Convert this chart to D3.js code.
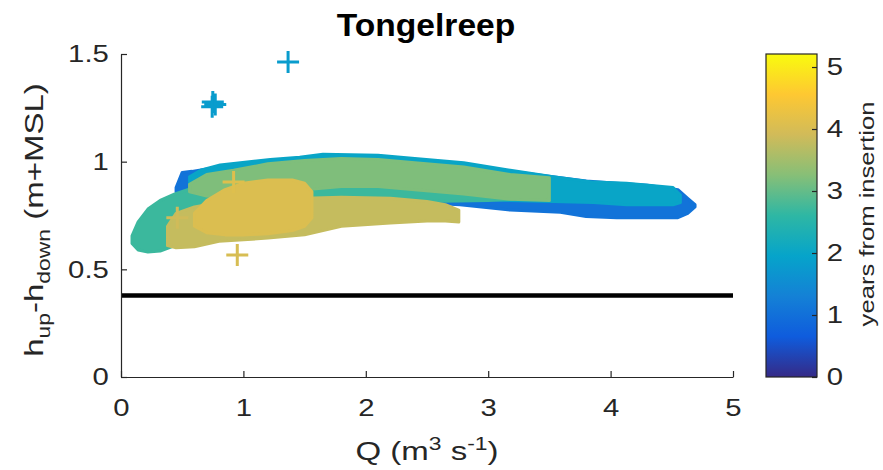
<!DOCTYPE html>
<html lang="en">
<head>
<meta charset="UTF-8">
<title>Tongelreep</title>
<script src="https://d3js.org/d3.v7.min.js"></script>
<style>
    body {
        margin: 0;
        background: #fff;
        font-family: "Liberation Sans", Arial, sans-serif;
    }
    .axis path, .axis line { stroke: #262626; stroke-width: 1.2px; }
    .axis text { font-size: 24px; fill: #262626; font-family: "Liberation Sans", Arial, sans-serif; }
    .label { font-size: 26px; fill: #262626; }
    .title { font-size: 32px; font-weight: bold; fill: #000; }
</style>
</head>
<body>
<script>
    // colour value (years from insertion) of each cloud of points, drawn in this order
    var bandYears = [1.05, 2.0, 2.7, 3.2, 3.8, 4.05];

    // envelopes of the dense point clouds: [Q, lower h, upper h]
    var bandBlue = [[0.45, 0.86, 0.88], [0.5, 0.85, 0.95], [0.58, 0.84, 0.955], [0.8, 0.83, 0.975],
        [1.2, 0.83, 1.0], [1.8, 0.83, 1.02], [2.4, 0.81, 1.01], [2.77, 0.80, 0.99], [3.18, 0.775, 0.955],
        [3.59, 0.765, 0.925], [3.8, 0.745, 0.91], [4.05, 0.74, 0.9], [4.3, 0.74, 0.89],
        [4.55, 0.74, 0.87], [4.63, 0.76, 0.83], [4.69, 0.79, 0.80]];
    var bandCyan = [[0.56, 0.86, 0.93], [0.65, 0.84, 0.96], [0.81, 0.84, 0.985], [1.22, 0.85, 1.01],
        [1.46, 0.85, 1.02], [1.65, 0.85, 1.035], [2.1, 0.85, 1.03], [2.4, 0.84, 1.015], [2.8, 0.83, 0.995],
        [3.18, 0.82, 0.96], [3.53, 0.815, 0.93], [3.86, 0.81, 0.905], [4.13, 0.80, 0.90],
        [4.51, 0.80, 0.88], [4.57, 0.81, 0.845]];
    var bandTeal = [[0.09, 0.62, 0.655], [0.14, 0.59, 0.72], [0.22, 0.58, 0.78], [0.32, 0.585, 0.82],
        [0.44, 0.61, 0.85], [0.6, 0.64, 0.88], [1.0, 0.70, 0.93], [1.5, 0.78, 0.95], [2.0, 0.82, 0.96],
        [2.5, 0.815, 0.95], [3.0, 0.82, 0.93], [3.2, 0.825, 0.90]];
    var bandGreen = [[0.56, 0.86, 0.895], [0.7, 0.84, 0.94], [0.92, 0.83, 0.96], [1.2, 0.84, 0.99],
        [1.5, 0.87, 1.005], [1.8, 0.885, 1.015], [2.1, 0.885, 1.01], [2.4, 0.87, 0.995],
        [2.8, 0.85, 0.975], [3.18, 0.825, 0.94], [3.5, 0.82, 0.925]];
    var bandOlive = [[0.38, 0.61, 0.70], [0.45, 0.60, 0.76], [0.6, 0.605, 0.79], [0.8, 0.63, 0.81],
        [1.2, 0.645, 0.82], [1.5, 0.66, 0.83], [1.8, 0.70, 0.835], [2.2, 0.715, 0.83],
        [2.5, 0.725, 0.815], [2.65, 0.725, 0.80], [2.76, 0.72, 0.775]];
    var bandGold = [[0.6, 0.70, 0.76], [0.7, 0.67, 0.82], [0.85, 0.66, 0.87], [1.0, 0.66, 0.90],
        [1.2, 0.665, 0.915], [1.4, 0.68, 0.915], [1.5, 0.70, 0.90], [1.56, 0.74, 0.86]];
    var bands = [bandBlue, bandCyan, bandTeal, bandGreen, bandOlive, bandGold];

    // single points that stand out of the clouds
    var pointQ = [0.75, 0.77, 0.745, 1.365, 0.95, 0.46, 0.92];
    var pointH = [1.277, 1.265, 1.255, 1.463, 0.567, 0.74, 0.905];
    var pointYear = [1.8, 1.8, 1.8, 1.8, 4.0, 3.9, 4.1];

    var thresholdH = 0.378;
    var xTicks = [0, 1, 2, 3, 4, 5];
    var yTicks = [0, 0.5, 1, 1.5];
    var cbTicks = [0, 1, 2, 3, 4, 5];
    var cbMax = 5.21;

    // parula colour map stops
    var parula = ["#352a87", "#0f5cdd", "#1481d6", "#06a4ca", "#2eb7a4", "#87bf77", "#d1bb59", "#fec832", "#f9fb0e"];

    var wide = "scale(1.22,1)"; // the figure's text runs wider than Liberation Sans

    var svg = d3.select("body").append("svg")
        .attr("width", 883)
        .attr("height", 470);

    var x = d3.scaleLinear().domain([0, 5]).range([121, 733]);
    var y = d3.scaleLinear().domain([0, 1.5]).range([377, 54]);
    var color = d3.scaleLinear()
        .domain(parula.map(function(c, i) { return i / (parula.length - 1) * cbMax; }))
        .range(parula);

    // point clouds
    var area = d3.area()
        .x(function(d) { return x(d[0]); })
        .y0(function(d) { return y(d[1]); })
        .y1(function(d) { return y(d[2]); });

    svg.append("g").selectAll("path")
        .data(bands)
        .enter().append("path")
        .attr("d", area)
        .attr("fill", function(d, i) { return color(bandYears[i]); })
        .attr("stroke", function(d, i) { return color(bandYears[i]); })
        .attr("stroke-width", 3)
        .attr("stroke-linejoin", "round");

    // '+' markers
    var plus = "M-11,0H11M0,-11V11";
    svg.append("g").selectAll("path")
        .data(pointQ)
        .enter().append("path")
        .attr("d", plus)
        .attr("transform", function(d, i) { return "translate(" + x(d) + "," + y(pointH[i]) + ")"; })
        .attr("stroke", function(d, i) { return color(pointYear[i]); })
        .attr("stroke-width", 3)
        .attr("fill", "none");

    // threshold line
    svg.append("line")
        .attr("x1", x(0)).attr("x2", x(5))
        .attr("y1", y(thresholdH)).attr("y2", y(thresholdH))
        .attr("stroke", "#000")
        .attr("stroke-width", 4.5);

    // axes, ticks pointing inward
    svg.append("g")
        .attr("class", "axis")
        .attr("transform", "translate(0,377)")
        .call(d3.axisBottom(x).tickValues(xTicks).tickFormat(d3.format("")).tickSizeInner(-6).tickSizeOuter(0).tickPadding(22))
        .selectAll("text").attr("transform", wide);

    svg.append("g")
        .attr("class", "axis")
        .attr("transform", "translate(121,0)")
        .call(d3.axisLeft(y).tickValues(yTicks).tickFormat(d3.format("")).tickSizeInner(-6).tickSizeOuter(0).tickPadding(10))
        .selectAll("text").attr("transform", wide);

    // colour bar
    var grad = svg.append("defs").append("linearGradient")
        .attr("id", "parula")
        .attr("x1", 0).attr("x2", 0).attr("y1", 1).attr("y2", 0);
    grad.selectAll("stop")
        .data(parula)
        .enter().append("stop")
        .attr("offset", function(d, i) { return i / (parula.length - 1); })
        .attr("stop-color", function(d) { return d; });

    var cb = d3.scaleLinear().domain([0, cbMax]).range([377, 54]);
    svg.append("rect")
        .attr("x", 766).attr("y", 54)
        .attr("width", 51).attr("height", 323)
        .attr("fill", "url(#parula)")
        .attr("stroke", "#262626")
        .attr("stroke-width", 1.2);

    var cbAxis = svg.append("g")
        .attr("class", "axis")
        .attr("transform", "translate(817,0)")
        .call(d3.axisRight(cb).tickValues(cbTicks).tickFormat(d3.format("")).tickSizeInner(-5).tickSizeOuter(0).tickPadding(8));
    cbAxis.select(".domain").remove();
    cbAxis.selectAll("text").attr("transform", wide);

    svg.append("text")
        .attr("class", "label")
        .attr("transform", "translate(874,214) rotate(-90) scale(1.28,1)")
        .attr("text-anchor", "middle")
        .style("font-size", "20px")
        .text("years from insertion");

    // axis labels
    var xl = svg.append("text")
        .attr("class", "label")
        .attr("transform", "translate(427,460) scale(1.27,1)")
        .attr("text-anchor", "middle");
    xl.append("tspan").text("Q (m");
    xl.append("tspan").attr("dy", -10).style("font-size", "18px").text("3");
    xl.append("tspan").attr("dy", 10).text(" s");
    xl.append("tspan").attr("dy", -10).style("font-size", "18px").text("-1");
    xl.append("tspan").attr("dy", 10).text(")");

    var yl = svg.append("text")
        .attr("class", "label")
        .attr("transform", "translate(43,220) rotate(-90) scale(1.27,1)")
        .attr("text-anchor", "middle");
    yl.append("tspan").text("h");
    yl.append("tspan").attr("dy", 7).style("font-size", "18px").text("up");
    yl.append("tspan").attr("dy", -7).text("-h");
    yl.append("tspan").attr("dy", 7).style("font-size", "18px").text("down");
    yl.append("tspan").attr("dy", -7).text(" (m+MSL)");

    svg.append("text")
        .attr("class", "title")
        .attr("transform", "translate(426,36) scale(1.05,1)")
        .attr("text-anchor", "middle")
        .text("Tongelreep");
</script>
</body>
</html>
